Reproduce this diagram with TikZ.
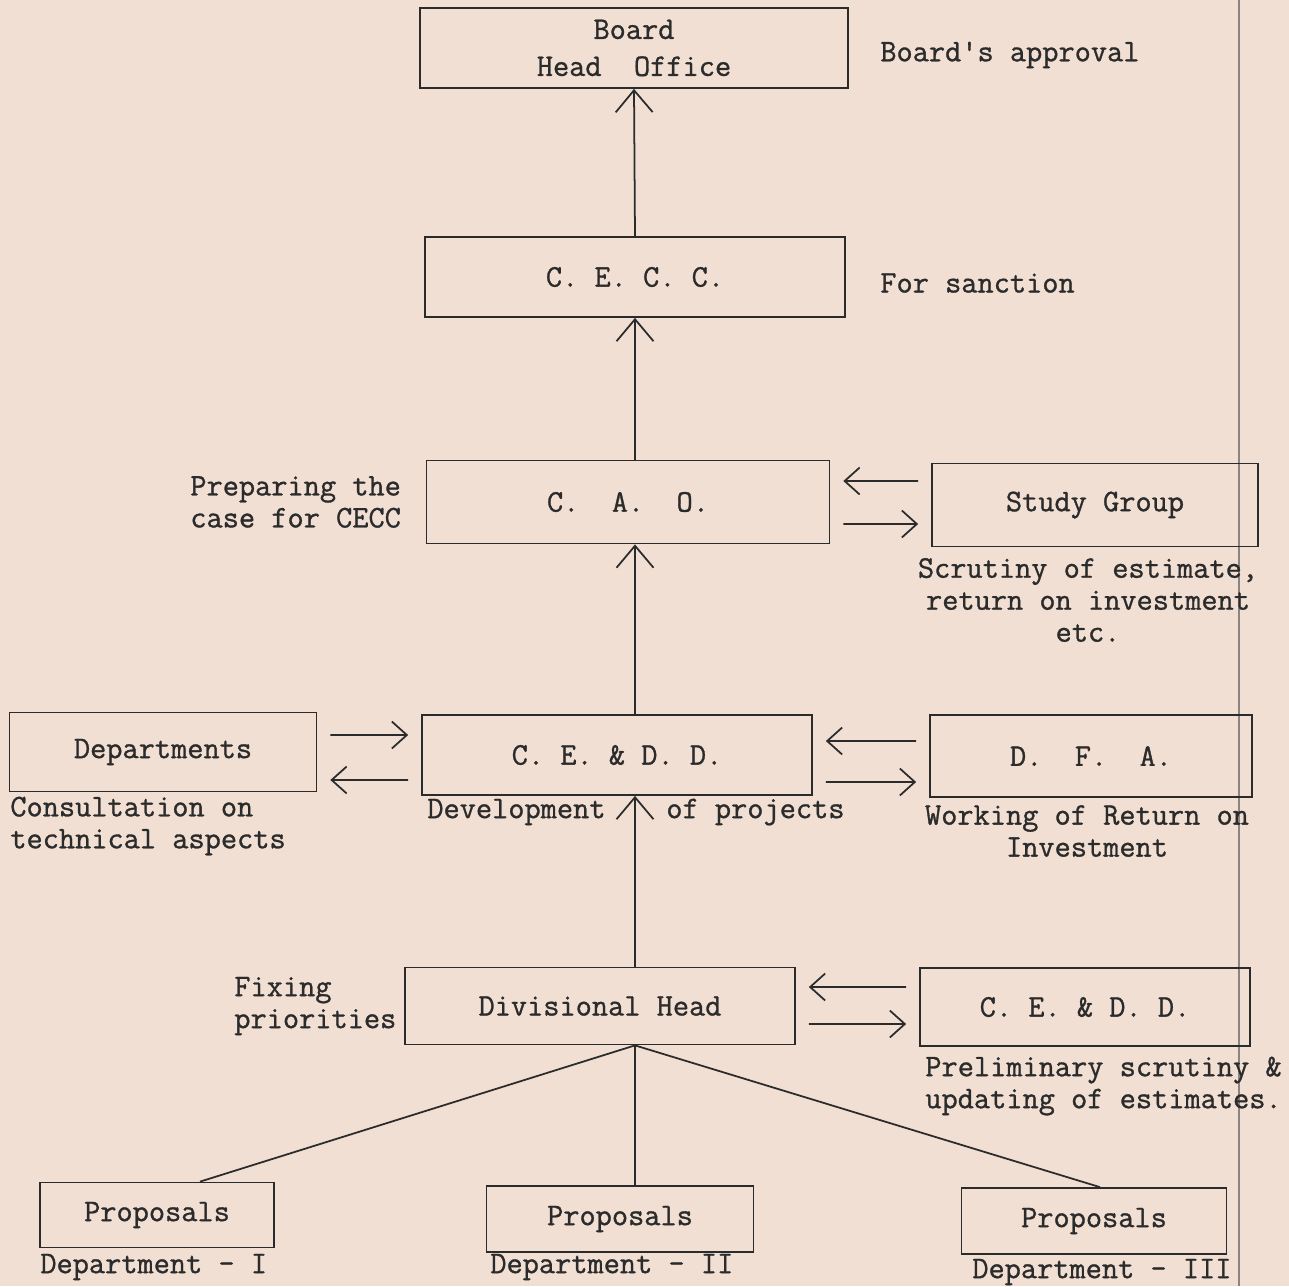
\documentclass[tikz,border=0pt]{standalone}
\usepackage{fontspec}
\setmonofont[FakeBold=1]{Latin Modern Mono}
\usepackage{tikz}
\usetikzlibrary{arrows.meta,positioning}
\definecolor{paper}{HTML}{F1DFD3}
\definecolor{ink}{HTML}{2B2B2B}
\definecolor{pageedge}{HTML}{8C8480}
\tikzset{
  typed/.style={font=\ttfamily\fontsize{17.9}{18.2}\selectfont, text=ink},
  boxnode/.style={typed, draw=ink, line width=1pt, align=center, inner sep=0pt},
  notenode/.style={typed, inner sep=0pt},
  uparrow/.style={-{Straight Barb[length=4.4mm, width=7.4mm]}, line width=1pt, draw=ink},
  sidearrow/.style={-{Straight Barb[length=3mm, width=5.4mm]}, line width=1pt, draw=ink, shorten <=2.6mm, shorten >=2.6mm},
  branch/.style={line width=1pt, draw=ink}
}
\begin{document}
\begin{tikzpicture}[x=0.02cm, y=-0.02cm]
  \fill[paper] (0,0) rectangle (1289,1286);
  \useasboundingbox (0,0) rectangle (1289,1286);
  \draw[pageedge, line width=0.6pt] (1239,0) -- (1239,1286);

  \node[boxnode, minimum width=8.56cm, minimum height=1.6cm] (board) at (634,48) {Board\\[1mm]Head~~Office};
  \node[boxnode, minimum width=8.4cm, minimum height=1.6cm] (cecc) at (635,277) {C. E. C. C.};
  \node[boxnode, minimum width=8.06cm, minimum height=1.66cm] (cao) at (628,502) {C.~~A.~~O.};
  \node[boxnode, minimum width=6.52cm, minimum height=1.66cm] (study) at (1095,505) {Study Group};
  \node[boxnode, minimum width=7.8cm, minimum height=1.6cm] (cedd) at (617,755) {C. E. \& D. D.};
  \node[boxnode, minimum width=6.14cm, minimum height=1.58cm] (depts) at (163,752) {Departments};
  \node[boxnode, minimum width=6.44cm, minimum height=1.64cm] (dfa) at (1091,756) {D.~~F.~~A.};
  \node[boxnode, minimum width=7.8cm, minimum height=1.54cm] (divhead) at (600,1006) {Divisional Head};
  \node[boxnode, minimum width=6.6cm, minimum height=1.56cm] (ceddtwo) at (1085,1007) {C. E. \& D. D.};
  \node[boxnode, minimum width=4.68cm, minimum height=1.3cm] (propone) at (157,1215) {Proposals};
  \node[boxnode, minimum width=5.34cm, minimum height=1.32cm] (proptwo) at (620,1219) {Proposals};
  \node[boxnode, minimum width=5.3cm, minimum height=1.32cm] (propthree) at (1094,1221) {Proposals};

  \node[notenode, anchor=west] (approval) at (880,55) {Board's approval};
  \node[notenode, anchor=west] (sanction) at (880,283) {For sanction};
  \node[notenode, anchor=west, align=left] (preparing) at (190,502) {Preparing the\\case for CECC};
  \node[notenode, align=center] (scrutiny) at (1088,600) {Scrutiny of estimate,\\return on investment\\etc.};
  \node[notenode, anchor=west, align=left] (consult) at (10,826) {Consultation on\\technical aspects};
  \node[notenode, anchor=west] (develop) at (427,812) {Development};
  \node[notenode, anchor=west] (projects) at (666,812) {of projects};
  \node[notenode, align=center] (working) at (1087,831) {Working of Return on\\Investment};
  \node[notenode, anchor=west, align=left] (fixing) at (234,1006) {Fixing\\priorities};
  \node[notenode, anchor=west, align=left] (prelim) at (925,1086) {Preliminary scrutiny \&\\updating of estimates.};
  \node[notenode, anchor=west] (deptone) at (40,1267) {Department - I};
  \node[notenode, anchor=west] (depttwo) at (490,1267) {Department - II};
  \node[notenode, anchor=west] (deptthree) at (972,1272) {Department - III};

  \draw[uparrow] (cecc.north) -- (board.south);
  \draw[uparrow] (cao.north -| cecc.north) -- (cecc.south);
  \draw[uparrow] (cedd.north -| cecc.south) -- (cao.south -| cecc.south);
  \draw[uparrow] (divhead.north -| cecc.south) -- (cedd.south -| cecc.south);

  \draw[sidearrow] ([yshift=4.8mm]study.west) -- ([yshift=4.2mm]cao.east);
  \draw[sidearrow] ([yshift=-4.4mm]cao.east) -- ([yshift=-3.8mm]study.west);
  \draw[sidearrow] ([yshift=3.4mm]depts.east) -- ([yshift=4mm]cedd.west);
  \draw[sidearrow] ([yshift=-5mm]cedd.west) -- ([yshift=-5.6mm]depts.east);
  \draw[sidearrow] ([yshift=3mm]dfa.west) -- ([yshift=2.8mm]cedd.east);
  \draw[sidearrow] ([yshift=-5.4mm]cedd.east) -- ([yshift=-5.2mm]dfa.west);
  \draw[sidearrow] ([yshift=4mm]ceddtwo.west) -- ([yshift=3.8mm]divhead.east);
  \draw[sidearrow] ([yshift=-3.6mm]divhead.east) -- ([yshift=-3.4mm]ceddtwo.west);

  \draw[branch] (divhead.south -| cecc.south) -- ([xshift=8.6mm]propone.north);
  \draw[branch] (divhead.south -| cecc.south) -- (proptwo.north -| cecc.south);
  \draw[branch] (divhead.south -| cecc.south) -- ([xshift=1.2mm]propthree.north);
\end{tikzpicture}
\end{document}
